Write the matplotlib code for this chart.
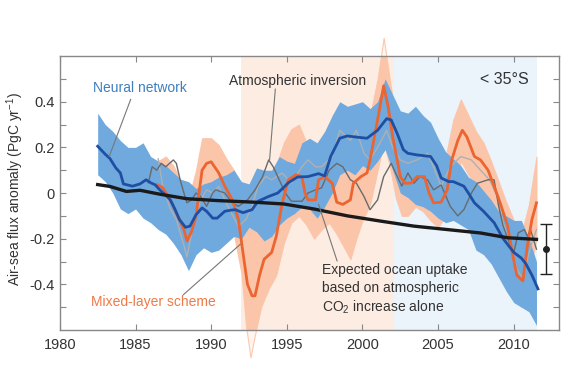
import numpy as np
import matplotlib
matplotlib.use('Agg')
import matplotlib.pyplot as plt

plt.rcParams['font.family'] = ['Liberation Sans', 'DejaVu Sans']
plt.rcParams['mathtext.default'] = 'regular'
plt.rcParams['axes.unicode_minus'] = False

# neural network estimate (line + spread)
nn_t = [1982.5, 1983.0, 1983.3, 1983.7, 1984.0, 1984.2, 1984.8, 1985.3, 1985.7, 1986.0,
        1986.3, 1986.6, 1987.0, 1987.3, 1987.6, 1987.9, 1988.3, 1988.6, 1989.0, 1989.4,
        1989.7, 1990.1, 1990.4, 1990.9, 1991.3, 1991.6, 1992.1, 1992.7, 1993.1, 1993.8,
        1994.4, 1994.8, 1995.1, 1995.7, 1996.4, 1997.1, 1997.5, 1997.9, 1998.5, 1999.0,
        1999.6, 2000.3, 2000.7, 2001.0, 2001.6, 2001.9, 2002.3, 2002.7, 2003.0, 2003.6,
        2004.5, 2004.9, 2005.2, 2005.7, 2006.0, 2006.7, 2007.0, 2007.4, 2008.0, 2008.7,
        2009.3, 2010.0, 2010.5, 2010.8, 2011.2, 2011.6]
nn_val = [0.205, 0.17, 0.152, 0.11, 0.088, 0.04, 0.03, 0.04, 0.058, 0.045,
          0.036, 0.014, -0.01, -0.03, -0.07, -0.116, -0.15, -0.145, -0.095, -0.065,
          -0.08, -0.11, -0.11, -0.08, -0.075, -0.073, -0.086, -0.073, -0.036, -0.015,
          0.0, 0.025, 0.045, 0.07, 0.072, 0.085, 0.075, 0.16, 0.24, 0.25,
          0.245, 0.24, 0.26, 0.275, 0.326, 0.32, 0.26, 0.19, 0.174, 0.167,
          0.16, 0.12, 0.066, 0.05, 0.05, 0.03, 0.0, -0.043, -0.08, -0.13,
          -0.2, -0.26, -0.285, -0.31, -0.36, -0.42]

nn_band_t = np.arange(1982.5, 2011.51, 0.5)
nn_hi = [0.35, 0.30, 0.27, 0.23, 0.20, 0.20, 0.22, 0.16, 0.14, 0.12,
         0.09, 0.06, 0.05, 0.02, 0.04, 0.05, 0.07, 0.08, 0.10, 0.05,
         0.04, 0.11, 0.10, 0.10, 0.16, 0.14, 0.13, 0.22, 0.24, 0.22,
         0.27, 0.34, 0.40, 0.38, 0.39, 0.40, 0.37, 0.40, 0.50, 0.43,
         0.36, 0.35, 0.38, 0.34, 0.31, 0.24, 0.18, 0.15, 0.12, 0.07,
         0.05, 0.01, -0.03, -0.08, -0.10, -0.12, -0.12, -0.20, -0.30]
nn_lo = [0.08, 0.05, 0.0, -0.07, -0.09, -0.07, -0.11, -0.13, -0.16, -0.18,
         -0.22, -0.27, -0.34, -0.27, -0.24, -0.26, -0.25, -0.22, -0.19, -0.20,
         -0.15, -0.17, -0.21, -0.19, -0.14, -0.11, -0.09, -0.06, -0.07, -0.11,
         -0.06, 0.0, 0.08, 0.10, 0.08, 0.12, 0.10, 0.14, 0.19, 0.10,
         0.0, -0.02, -0.05, -0.06, -0.08, -0.11, -0.13, -0.12, -0.14, -0.16,
         -0.25, -0.27, -0.31, -0.37, -0.43, -0.48, -0.50, -0.52, -0.58]

# mixed-layer scheme (line + spread)
ml_t = [1986.45, 1986.8, 1987.3, 1987.7, 1988.2, 1988.4, 1988.7, 1989.0, 1989.2, 1989.4,
        1989.7, 1990.0, 1990.5, 1990.9, 1991.4, 1991.8, 1992.1, 1992.4, 1992.7, 1992.9,
        1993.2, 1993.5, 1994.0, 1994.3, 1994.7, 1995.1, 1995.6, 1996.0, 1996.2, 1996.4,
        1996.9, 1997.1, 1997.5, 1998.0, 1998.3, 1998.7, 1999.2, 1999.4, 1999.9, 2000.3,
        2000.5, 2001.0, 2001.4, 2001.7, 2002.0, 2002.5, 2002.8, 2003.2, 2003.6, 2004.1,
        2004.4, 2004.7, 2005.2, 2005.6, 2005.9, 2006.3, 2006.6, 2006.9, 2007.4, 2007.8,
        2008.3, 2008.7, 2009.1, 2009.6, 2009.9, 2010.2, 2010.6, 2010.9, 2011.2, 2011.5]
ml_val = [0.036, 0.023, -0.03, -0.087, -0.16, -0.21, -0.17, -0.10, 0.0, 0.10,
          0.13, 0.137, 0.088, 0.03, -0.03, -0.116, -0.26, -0.40, -0.45, -0.45,
          -0.36, -0.29, -0.26, -0.19, -0.043, 0.058, 0.08, 0.072, 0.0, -0.03,
          -0.03, 0.058, 0.072, 0.043, -0.04, -0.05, -0.03, 0.043, 0.072, 0.088,
          0.145, 0.32, 0.47, 0.377, 0.246, 0.072, 0.043, 0.043, 0.072, 0.072,
          0.0, -0.043, -0.04, 0.014, 0.145, 0.23, 0.275, 0.246, 0.16, 0.145,
          0.10, 0.03, -0.043, -0.145, -0.26, -0.36, -0.385, -0.23, -0.116, -0.043]

ml_band_t = [1986.5, 1987.0, 1987.5, 1988.0, 1988.3, 1988.6, 1989.0, 1989.4, 1990.0, 1990.5,
             1991.0, 1991.5, 1992.0, 1992.3, 1992.6, 1992.9, 1993.3, 1993.8, 1994.3, 1994.8,
             1995.3, 1995.8, 1996.3, 1996.8, 1997.3, 1997.8, 1998.3, 1998.8, 1999.2, 1999.6,
             2000.0, 2000.5, 2001.0, 2001.4, 2001.8, 2002.2, 2002.6, 2003.0, 2003.5, 2004.0,
             2004.5, 2005.0, 2005.5, 2006.0, 2006.5, 2007.0, 2007.5, 2008.0, 2008.5, 2009.0,
             2009.5, 2010.0, 2010.5, 2011.0, 2011.5]
ml_hi = [0.14, 0.16, 0.12, 0.05, -0.02, 0.0, 0.10, 0.24, 0.24, 0.21,
         0.15, 0.10, 0.04, -0.06, -0.12, -0.10, -0.02, 0.05, 0.12, 0.22,
         0.28, 0.30, 0.22, 0.14, 0.18, 0.20, 0.14, 0.10, 0.12, 0.20,
         0.24, 0.34, 0.50, 0.68, 0.50, 0.32, 0.20, 0.16, 0.17, 0.20,
         0.10, 0.05, 0.16, 0.32, 0.41, 0.34, 0.27, 0.22, 0.14, 0.05,
         -0.04, -0.12, -0.18, -0.05, 0.16]
ml_lo = [-0.03, -0.08, -0.15, -0.22, -0.30, -0.26, -0.12, -0.02, -0.02, -0.05,
         -0.10, -0.18, -0.35, -0.58, -0.72, -0.62, -0.50, -0.42, -0.36, -0.22,
         -0.13, -0.10, -0.14, -0.20, -0.16, -0.13, -0.18, -0.24, -0.29, -0.20,
         -0.12, -0.05, 0.10, 0.22, 0.12, -0.02, -0.10, -0.10, -0.06, -0.08,
         -0.12, -0.15, -0.10, 0.0, 0.14, 0.08, 0.04, -0.03, -0.10, -0.20,
         -0.34, -0.44, -0.50, -0.36, -0.20]

# atmospheric inversions
inv_t = [1985.85, 1986.1, 1986.4, 1986.7, 1987.0, 1987.5, 1987.7, 1987.95, 1988.2, 1988.4,
         1988.7, 1989.0, 1989.3, 1989.7, 1990.1, 1990.3, 1990.9, 1991.4, 1991.8, 1992.4,
         1992.9, 1993.4, 1993.8, 1994.1, 1994.4, 1994.9, 1995.3, 1996.0, 1996.4, 1996.9,
         1997.3, 1997.8, 1998.3, 1998.7, 1999.2, 1999.6, 2000.1, 2000.5, 2001.0, 2001.4,
         2001.9, 2002.3, 2002.6, 2003.0, 2003.4, 2003.8, 2004.3, 2004.7, 2005.2, 2005.8,
         2006.3, 2006.7, 2007.2, 2007.6, 2008.3, 2008.7, 2009.0, 2009.3, 2009.7, 2010.0,
         2010.3, 2010.7, 2010.9, 2011.1, 2011.5]
inv_val = [0.045, 0.115, 0.10, 0.13, 0.115, 0.145, 0.13, 0.058, 0.0, -0.043,
           -0.03, 0.0, -0.015, -0.058, 0.0, 0.014, 0.0, -0.043, -0.058, -0.03,
           0.014, 0.072, 0.145, 0.115, 0.072, 0.0, -0.036, -0.036, 0.0, 0.014,
           0.023, 0.10, 0.13, 0.115, 0.058, 0.043, -0.015, -0.073, -0.03, 0.072,
           0.13, 0.072, 0.03, 0.088, 0.043, 0.072, 0.058, 0.014, 0.035, -0.058,
           -0.10, -0.073, 0.0, 0.043, 0.058, 0.058, -0.058, -0.145, -0.216, -0.26,
           -0.174, -0.16, -0.19, -0.16, -0.246]

inv2_t = [1986.5, 1986.8, 1987.3, 1987.7, 1988.2, 1988.4, 1988.8, 1989.3, 1989.7, 1990.1,
          1990.5, 1991.1, 1991.8, 1992.3, 1992.7, 1993.1, 1993.6, 1994.0, 1994.7, 1995.3,
          1996.0, 1996.4, 1996.9, 1997.3, 1998.0, 1998.5, 1999.2, 1999.6, 2000.1, 2000.5,
          2001.0, 2001.6, 2002.0, 2002.5, 2003.0, 2003.6, 2004.3, 2004.7, 2005.2, 2005.8,
          2006.5, 2007.2, 2007.8, 2008.4, 2008.9, 2009.3, 2009.8, 2010.2, 2010.6, 2010.9,
          2011.2, 2011.5]
inv2_val = [0.15, 0.03, -0.07, -0.116, -0.23, -0.28, -0.145, -0.03, 0.014, 0.0,
            0.03, -0.058, -0.145, -0.116, -0.058, 0.03, 0.072, 0.058, 0.088, 0.043,
            0.115, 0.145, 0.115, 0.115, 0.16, 0.275, 0.23, 0.275, 0.174, 0.145,
            0.20, 0.275, 0.20, 0.145, 0.13, 0.145, 0.174, 0.115, 0.03, 0.115,
            0.16, 0.145, 0.10, 0.058, -0.015, -0.13, -0.23, -0.333, -0.377, -0.29,
            -0.216, -0.16]

# expected uptake from atmospheric CO2 alone
exp_t = [1982.5, 1983.3, 1984.4, 1985.3, 1986.6, 1988.4, 1990.4, 1992.8, 1994.8,
         1996.8, 1999.0, 2001.2, 2003.4, 2005.6, 2007.8, 2009.6, 2011.5]
exp_val = [0.037, 0.029, 0.007, 0.012, -0.005, -0.025, -0.033, -0.04, -0.048,
           -0.07, -0.10, -0.123, -0.145, -0.16, -0.175, -0.196, -0.203]

# mean uncertainty bar
eb_year = 2012.1
eb_val = -0.245
eb_err = 0.11

fig = plt.figure(figsize=(5.7, 3.88), dpi=100)
ax = fig.add_axes([0.105, 0.1495, 0.876, 0.706])

# background periods
ax.axvspan(1992.0, 2002.1, color='#fdece2', lw=0, zorder=0)
ax.axvspan(2002.1, 2011.55, color='#ebf3fb', lw=0, zorder=0)

# mixed-layer spread: pale where it runs past the frame, normal inside
ax.fill_between(ml_band_t, ml_lo, ml_hi, facecolor='#fff4ee', edgecolor='#fcc8ad',
                lw=0.8, zorder=1, clip_on=False)
ax.fill_between(ml_band_t, ml_lo, ml_hi, color='#fbc5a9', lw=0, zorder=1)
ax.fill_between(nn_band_t, nn_lo, nn_hi, color='#6fa9de', lw=0, zorder=2)

ax.plot(inv2_t, inv2_val, color='#b0b0b0', lw=1.0, zorder=3)
ax.plot(inv_t, inv_val, color='#6a6a6a', lw=1.0, zorder=3)
ax.plot(ml_t, ml_val, color='#ec6430', lw=2.0, zorder=4)
ax.plot(nn_t, nn_val, color='#1f4fa3', lw=2.0, zorder=5)
ax.plot(exp_t, exp_val, color='#1a1a1a', lw=2.4, zorder=6)

ax.errorbar(eb_year, eb_val, yerr=eb_err, fmt='o', color='#222222', ms=4,
            elinewidth=1.0, capsize=4, capthick=1.0, zorder=6)

# labels and leader lines
txt = '#333333'
ax.text(1982.2, 0.462, 'Neural network', color='#3d7fc0', fontsize=10, va='center')
ax.plot([1984.68, 1983.26], [0.41, 0.16], color='#777777', lw=0.8, zorder=7)
ax.text(1991.2, 0.49, 'Atmospheric inversion', color=txt, fontsize=10, va='center')
ax.plot([1994.24, 1993.86], [0.455, 0.145], color='#777777', lw=0.8, zorder=7)
ax.text(1982.05, -0.477, 'Mixed-layer scheme', color='#ef7a48', fontsize=10, va='center')
ax.plot([1988.17, 1991.92], [-0.445, -0.225], color='#777777', lw=0.8, zorder=7)
ax.text(1997.3, -0.305, 'Expected ocean uptake\nbased on atmospheric\nCO$_2$ increase alone',
        color=txt, fontsize=10, va='top', linespacing=1.35)
ax.plot([1998.32, 1997.1], [-0.297, -0.05], color='#777777', lw=0.8, zorder=7)
ax.text(2011.0, 0.497, '< 35°S', color=txt, fontsize=11.5, ha='right', va='center')

ax.set_xlim(1980, 2013)
ax.set_ylim(-0.6, 0.6)
ax.set_xticks([1980, 1985, 1990, 1995, 2000, 2005, 2010])
ax.set_yticks(np.round(np.arange(-0.5, 0.51, 0.1), 1))
ax.set_yticklabels(['', '-0.4', '', '-0.2', '', '0', '', '0.2', '', '0.4', ''])
ax.tick_params(direction='in', length=4, top=True, right=True, color='#888888',
               labelcolor=txt, labelsize=10.5)
ax.tick_params(axis='x', pad=6)
for s in ax.spines.values():
    s.set_color('#888888')
    s.set_linewidth(1.0)
    s.set_zorder(8)

fig.text(0.026, 0.514, 'Air-sea flux anomaly (PgC yr$^{-1}$)', rotation=90,
         ha='center', va='center', fontsize=10, color=txt)

fig.savefig('out.png', dpi=100)
